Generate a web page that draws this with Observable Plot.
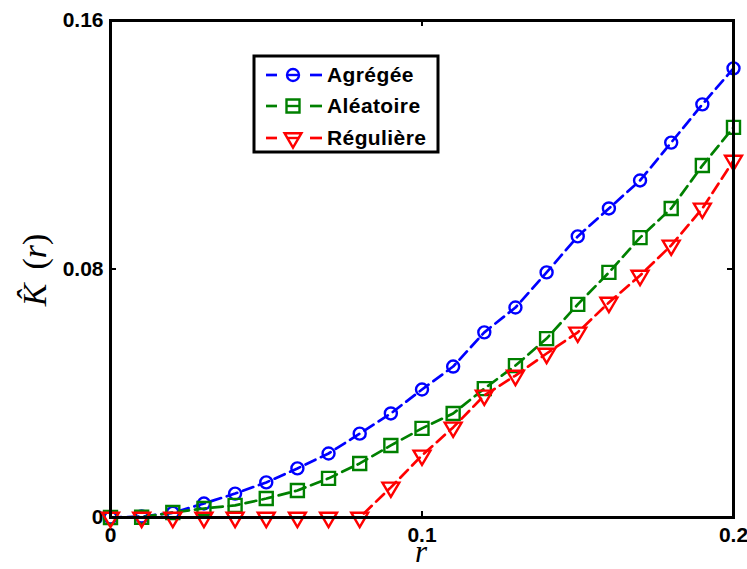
<!DOCTYPE html>
<html><head><meta charset="utf-8">
<script src="https://cdn.jsdelivr.net/npm/d3@7"></script>
<script src="https://cdn.jsdelivr.net/npm/@observablehq/plot@0.6"></script>
<style>body{margin:0;background:#fff}</style>
</head><body><div id="chart"></div>
<script>
const r = [0,0.01,0.02,0.03,0.04,0.05,0.06,0.07,0.08,0.09,0.10,0.11,0.12,0.13,0.14,0.15,0.16,0.17,0.18,0.19,0.20];
const agregee   = [0,0.0003,0.0015,0.0045,0.0077,0.0113,0.0158,0.0206,0.0270,0.0335,0.0412,0.0486,0.0596,0.0676,0.0789,0.0905,0.0995,0.1085,0.1207,0.1330,0.1446];
const aleatoire = [0,0.0001,0.0016,0.0029,0.0039,0.0061,0.0087,0.0126,0.0174,0.0232,0.0287,0.0335,0.0415,0.0489,0.0576,0.0686,0.0789,0.0901,0.0995,0.1133,0.1256];
const reguliere = [0,0,0,0,0,0,0,0,0,0.0097,0.0200,0.0290,0.0393,0.0457,0.0528,0.0596,0.0692,0.0779,0.0876,0.0995,0.1149];
const xTicks = [0, 0.1, 0.2];
const yTicks = [0, 0.08, 0.16];
const seriesNames = ["Agrégée", "Aléatoire", "Régulière"];
const seriesColors = ["#0000ff", "#008000", "#ff0000"];

// custom symbols
const circleSym = {draw(ctx, size){ const q = Math.sqrt(size/Math.PI); ctx.moveTo(q,0); ctx.arc(0,0,q,0,2*Math.PI); }};
const squareSym = {draw(ctx, size){ const q = Math.sqrt(size/Math.PI); ctx.rect(-q,-q,2*q,2*q); }};
const triDownSym = {draw(ctx, size){ const q = Math.sqrt(size/Math.PI); const w = 1.3*q, h = 2.2*q;
  ctx.moveTo(-w,-h/3); ctx.lineTo(w,-h/3); ctx.lineTo(0,2*h/3); ctx.closePath(); }};
const symbols = [circleSym, squareSym, triDownSym];
const radii = [6, 6.5, 6.5];

const seriesValues = [agregee, aleatoire, reguliere];
const tables = seriesValues.map((vals, i) => r.map((x, j) => ({r: x, k: vals[j], s: seriesNames[i]})));

const W = 747, H = 569, ML = 110, MR = 14, MT = 20, MB = 52;
const plotW = W - ML - MR, plotH = H - MT - MB;

const seriesMarks = [];
tables.forEach((t, i) => {
  seriesMarks.push(Plot.line(t, {x: "r", y: "k", stroke: seriesColors[i], strokeWidth: 2.7, strokeDasharray: "11,6"}));
  seriesMarks.push(Plot.dot(t, {x: "r", y: "k", stroke: seriesColors[i], strokeWidth: 2.4, fill: "none", symbol: symbols[i], r: radii[i]}));
});

const fmt = d => String(+d.toFixed(2));

const chart = Plot.plot({
  width: W, height: H,
  marginLeft: ML, marginRight: MR, marginTop: MT, marginBottom: MB,
  style: {fontFamily: "'Liberation Sans', Arial, sans-serif", fontWeight: "bold", fontSize: "21px", color: "black", background: "white", overflow: "visible"},
  x: {domain: [0, 0.2], ticks: xTicks, tickFormat: fmt, tickSize: 0, tickPadding: 10, label: null},
  y: {domain: [0, 0.16], ticks: yTicks, tickFormat: fmt, tickSize: 0, tickPadding: 7, label: null},
  marks: [
    ...seriesMarks,
    Plot.frame({stroke: "black", strokeWidth: 3}),
    Plot.ruleX(xTicks, {x: d => d, insetTop: plotH - 6, stroke: "black", strokeWidth: 2}),
    Plot.ruleX(xTicks, {x: d => d, insetBottom: plotH - 6, stroke: "black", strokeWidth: 2}),
    Plot.ruleY(yTicks, {y: d => d, insetRight: plotW - 6, stroke: "black", strokeWidth: 2}),
    Plot.ruleY(yTicks, {y: d => d, insetLeft: plotW - 6, stroke: "black", strokeWidth: 2})
  ]
});
document.getElementById("chart").appendChild(chart);

// axis labels and legend
const svg = d3.select(chart);
const serif = "'Liberation Serif', 'Times New Roman', serif";
svg.append("text").attr("x", 421).attr("y", 562)
  .attr("text-anchor", "middle").style("font-family", serif).style("font-size", "31px").style("font-weight", "normal")
  .style("font-style", "italic").text("r");
const yl = svg.append("text").attr("transform", `translate(46,270) rotate(-90)`)
  .attr("text-anchor", "middle").style("font-family", serif).style("font-size", "34px").style("font-weight", "normal");
yl.append("tspan").style("font-style", "italic").text("K\u0302");
yl.append("tspan").attr("dx", 14).text("(");
yl.append("tspan").style("font-style", "italic").text("r");
yl.append("tspan").text(")");

const lg = svg.append("g");
lg.append("rect").attr("x", 254).attr("y", 56).attr("width", 184).attr("height", 96)
  .attr("fill", "white").attr("stroke", "black").attr("stroke-width", 3);
const rowY = [75, 106, 138];
seriesNames.forEach((name, i) => {
  const y = rowY[i];
  lg.append("line").attr("x1", 266).attr("x2", 277).attr("y1", y).attr("y2", y).attr("stroke", seriesColors[i]).attr("stroke-width", 2.7);
  lg.append("line").attr("x1", 310).attr("x2", 322).attr("y1", y).attr("y2", y).attr("stroke", seriesColors[i]).attr("stroke-width", 2.7);
  lg.append("line").attr("x1", 287).attr("x2", 299).attr("y1", y).attr("y2", y).attr("stroke", seriesColors[i]).attr("stroke-width", 2.4);
  lg.append("path").attr("transform", `translate(293,${y})`)
    .attr("d", d3.symbol(symbols[i], Math.PI * radii[i] * radii[i])())
    .attr("fill", "none").attr("stroke", seriesColors[i]).attr("stroke-width", 2.4);
  lg.append("text").attr("x", 327).attr("y", y + 7).attr("text-anchor", "start")
    .style("font-family", "'Liberation Sans', Arial, sans-serif")
    .style("font-weight", "bold").style("font-size", "21px").style("letter-spacing", "0.4px").text(name);
});
</script>
</body></html>
